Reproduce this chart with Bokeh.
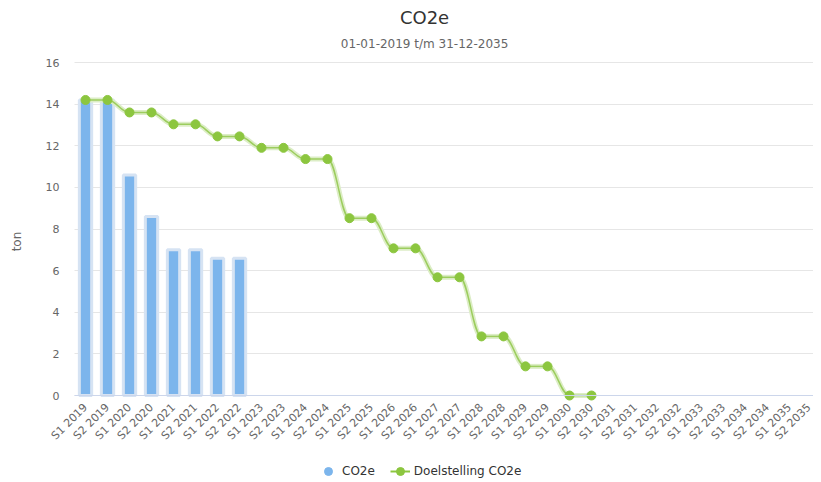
import math
from bokeh.plotting import figure
from bokeh.models import (ColumnDataSource, Range1d, FixedTicker, Label, Legend,
                          LegendItem)
from bokeh.embed import file_html
from bokeh.resources import INLINE

# ---------------- data ----------------
categories = ["S1 2019", "S2 2019", "S1 2020", "S2 2020", "S1 2021", "S2 2021",
              "S1 2022", "S2 2022", "S1 2023", "S2 2023", "S1 2024", "S2 2024",
              "S1 2025", "S2 2025", "S1 2026", "S2 2026", "S1 2027", "S2 2027",
              "S1 2028", "S2 2028", "S1 2029", "S2 2029", "S1 2030", "S2 2030",
              "S1 2031", "S2 2031", "S1 2032", "S2 2032", "S1 2033", "S2 2033",
              "S1 2034", "S2 2034", "S1 2035", "S2 2035"]
co2e = [14.2, 14.2, 10.6, 8.6, 7.0, 7.0, 6.6, 6.6]
target = [14.2, 14.2, 13.6, 13.6, 13.03, 13.03, 12.45, 12.45, 11.9, 11.9,
          11.36, 11.36, 8.52, 8.52, 7.07, 7.07, 5.68, 5.68, 2.84, 2.84,
          1.4, 1.4, 0.0, 0.0]
y_ticks = [0, 2, 4, 6, 8, 10, 12, 14, 16]
title_text = "CO2e"
subtitle_text = "01-01-2019 t/m 31-12-2035"

FONT = "DejaVu Sans"
BLUE = "#7cb5ec"
GREEN = "#8cc63f"

X_LO, X_HI = -0.5, len(categories) - 0.5   # category band limits


def spline_segments(xs, ys, smoothing=1.5):
    """Highcharts-style spline control points for a series."""
    n = len(xs)
    denom = smoothing + 1
    left = [None] * n
    right = [None] * n
    for i in range(1, n - 1):
        lx, ly = xs[i - 1], ys[i - 1]
        nx, ny = xs[i + 1], ys[i + 1]
        px, py = xs[i], ys[i]
        lcx = (smoothing * px + lx) / denom
        lcy = (smoothing * py + ly) / denom
        rcx = (smoothing * px + nx) / denom
        rcy = (smoothing * py + ny) / denom
        if rcx != lcx:
            corr = ((rcy - lcy) * (rcx - px)) / (rcx - lcx) + py - rcy
            lcy += corr
            rcy += corr
            if lcy > ly and lcy > py:
                lcy = max(ly, py); rcy = 2 * py - lcy
            elif lcy < ly and lcy < py:
                lcy = min(ly, py); rcy = 2 * py - lcy
            if rcy > ny and rcy > py:
                rcy = max(ny, py); lcy = 2 * py - rcy
            elif rcy < ny and rcy < py:
                rcy = min(ny, py); lcy = 2 * py - rcy
        left[i] = (lcx, lcy)
        right[i] = (rcx, rcy)
    seg = dict(x0=[], y0=[], x1=[], y1=[], cx0=[], cy0=[], cx1=[], cy1=[])
    for i in range(n - 1):
        c0 = right[i] if right[i] else (xs[i], ys[i])
        c1 = left[i + 1] if left[i + 1] else (xs[i + 1], ys[i + 1])
        seg["x0"].append(xs[i]); seg["y0"].append(ys[i])
        seg["x1"].append(xs[i + 1]); seg["y1"].append(ys[i + 1])
        seg["cx0"].append(c0[0]); seg["cy0"].append(c0[1])
        seg["cx1"].append(c1[0]); seg["cy1"].append(c1[1])
    return seg


x_bar = list(range(len(co2e)))
x_tgt = list(range(len(target)))

# the frame covers the whole canvas; axes, titles and legend sit inside it
p = figure(width=813, height=482, output_backend="svg", toolbar_location=None,
           title=None,
           x_range=Range1d(-3.864, 33.09), y_range=Range1d(-4.18, 18.979),
           frame_width=813, frame_height=482,
           min_border_left=0, min_border_right=0, min_border_top=0,
           min_border_bottom=0)

p.outline_line_color = None
p.background_fill_color = "white"
p.border_fill_color = "white"

# titles
p.add_layout(Label(x=15.41, y=18.16, text=title_text, text_align="center",
                   text_baseline="middle", text_font=FONT,
                   text_font_size="18px", text_color="#333333"))
p.add_layout(Label(x=15.41, y=16.91, text=subtitle_text, text_align="center",
                   text_baseline="middle", text_font=FONT,
                   text_font_size="12px", text_color="#666666"))

# bars
bar_src = ColumnDataSource(dict(x=x_bar, top=co2e))
p.vbar(x="x", top="top", width=0.56, bottom=0, source=bar_src,
       fill_color=BLUE, line_color="#d6e3f3", line_width=3)

# target spline
seg = spline_segments([float(v) for v in x_tgt], target)
seg_src = ColumnDataSource(seg)
p.bezier(x0="x0", y0="y0", x1="x1", y1="y1", cx0="cx0", cy0="cy0",
         cx1="cx1", cy1="cy1", source=seg_src, line_color="#dcedc6",
         line_width=5)
p.bezier(x0="x0", y0="y0", x1="x1", y1="y1", cx0="cx0", cy0="cy0",
         cx1="cx1", cy1="cy1", source=seg_src, line_color="#9ccd5e",
         line_width=1.5)
tgt_src = ColumnDataSource(dict(x=x_tgt, y=target))
tgt_pts = p.scatter(x="x", y="y", source=tgt_src, size=9, marker="circle",
                    fill_color=GREEN, line_color=GREEN)

# hidden renderers that only supply legend glyphs
leg_bar = p.scatter(x="x", y="top", source=bar_src, size=11, marker="circle",
                    fill_color=BLUE, line_color=BLUE, visible=False)
leg_line = p.line(x="x", y="y", source=tgt_src, line_color=GREEN,
                  line_width=2, visible=False)

legend = Legend(items=[LegendItem(label="CO2e", renderers=[leg_bar]),
                       LegendItem(label="Doelstelling CO2e",
                                  renderers=[leg_line, tgt_pts])],
                orientation="horizontal", location=(318, 1),
                label_text_font=FONT, label_text_font_size="12px",
                label_text_color="#333333", border_line_color=None,
                background_fill_alpha=0, inactive_fill_alpha=0,
                glyph_width=20, glyph_height=20,
                spacing=15, padding=4, margin=0, label_standoff=4)
p.add_layout(legend, "center")

# axes (pinned to y=0 and to the left edge of the category band)
p.xaxis.fixed_location = 0
p.xaxis.bounds = (X_LO, X_HI)
p.xaxis.ticker = FixedTicker(ticks=list(range(len(categories))))
p.xaxis.major_label_overrides = {i: c for i, c in enumerate(categories)}
p.xaxis.major_label_orientation = math.pi / 4
p.xaxis.major_label_text_font = FONT
p.xaxis.major_label_text_font_size = "11px"
p.xaxis.major_label_text_color = "#666666"
p.xaxis.axis_line_color = "#ccd6eb"
p.xaxis.major_tick_line_color = None
p.xaxis.minor_tick_line_color = None
p.xaxis.major_label_standoff = 4

p.yaxis.fixed_location = X_LO
p.yaxis.ticker = FixedTicker(ticks=y_ticks)
p.yaxis.axis_label = "ton"
p.yaxis.axis_label_text_font = FONT
p.yaxis.axis_label_text_font_size = "12px"
p.yaxis.axis_label_text_font_style = "normal"
p.yaxis.axis_label_text_color = "#666666"
p.yaxis.axis_label_standoff = 19
p.yaxis.major_label_text_font = FONT
p.yaxis.major_label_text_font_size = "11px"
p.yaxis.major_label_text_color = "#666666"
p.yaxis.axis_line_color = None
p.yaxis.major_tick_line_color = None
p.yaxis.minor_tick_line_color = None
p.yaxis.major_label_standoff = 9

p.xgrid.grid_line_color = None
p.ygrid.grid_line_color = "#e6e6e6"
if "cross_bounds" in p.ygrid[0].properties():
    p.ygrid.cross_bounds = (X_LO, X_HI)

open("out.html", "w").write(file_html(p, INLINE))
